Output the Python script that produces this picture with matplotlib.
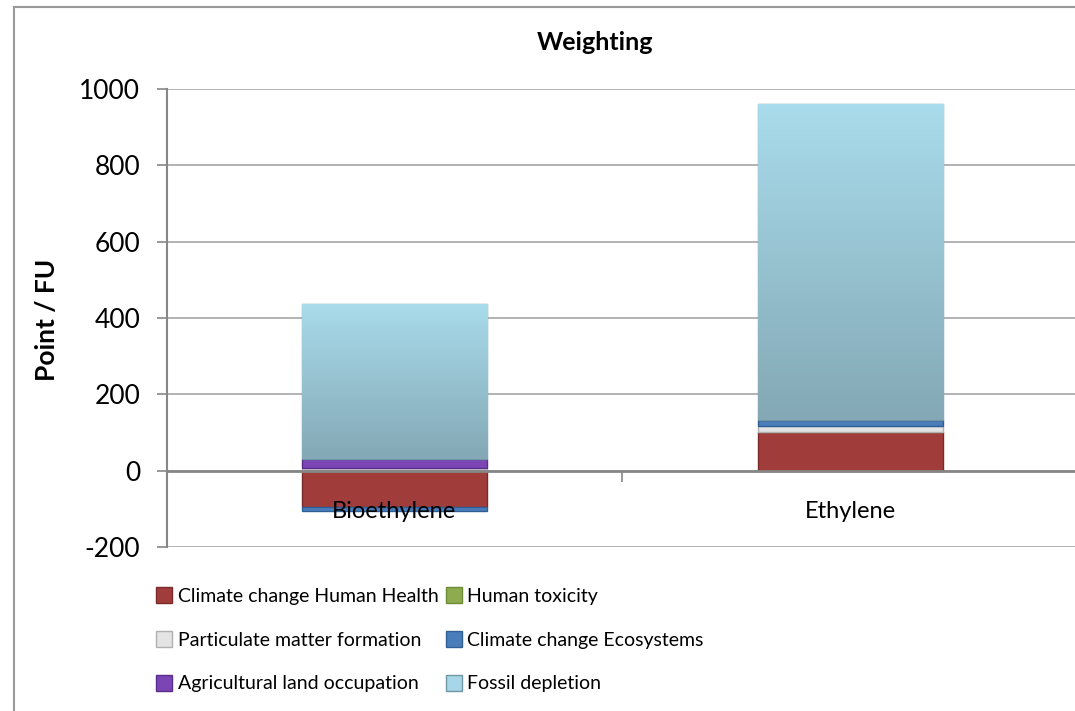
import numpy as np
import matplotlib.pyplot as plt
from matplotlib.lines import Line2D
from matplotlib.colors import LinearSegmentedColormap

plt.rcParams["font.family"] = ["Lato", "DejaVu Sans"]
plt.rcParams["font.size"] = 15
plt.rcParams["axes.unicode_minus"] = False

# Data (Point / FU)
products = ["Bioethylene", "Ethylene"]
categories = ["Climate change Human Health", "Human toxicity",
              "Particulate matter formation", "Climate change Ecosystems",
              "Agricultural land occupation", "Fossil depletion"]
cc_human_health = [-94, 100]
human_toxicity = [1, 1]
particulate = [6, 15]
cc_ecosystems = [-13, 16]
agri_land = [23, 2]
fossil = [407, 826]
series = [cc_human_health, human_toxicity, particulate, cc_ecosystems, agri_land, fossil]

colors = ["#a03d3b", "#8eab4f", "#e4e4e4", "#4a7ebb", "#7c45b5", "#a6d6e7"]
edges = ["#7a2a28", "#6d8a35", "#b0b0b0", "#2f5f96", "#5a2d8a", "#6f96a4"]

fig = plt.figure(figsize=(10.75, 7.11), dpi=100)
ax = fig.add_axes([0.155, 0.2307, 0.8478, 0.6441])

x = np.arange(len(products))
pos_bottom = np.zeros(len(products))
neg_bottom = np.zeros(len(products))
bar_w = 0.406
fossil_bars = None
for vals, c, ec in zip(series, colors, edges):
    vals = np.array(vals, dtype=float)
    bottom = np.where(vals >= 0, pos_bottom, neg_bottom)
    bars = ax.bar(x, vals, bar_w, bottom=bottom, color=c, edgecolor=ec,
                  linewidth=1, zorder=3)
    pos_bottom += np.where(vals >= 0, vals, 0)
    neg_bottom += np.where(vals < 0, vals, 0)
    fossil_bars = bars

# gradient on fossil depletion bars
grad = np.linspace(0, 1, 256).reshape(-1, 1)
cmap = LinearSegmentedColormap.from_list("fd", ["#84a8b5", "#a9dcec"])
for b in fossil_bars:
    x0, y0 = b.get_x(), b.get_y()
    im = ax.imshow(grad, cmap=cmap, origin="lower", aspect="auto",
                   extent=[x0, x0 + b.get_width(), y0, y0 + b.get_height()],
                   zorder=3.5)
    im.set_clip_path(b)

ax.set_xlim(-0.5, 1.5)
ax.set_ylim(-200, 1000)
ax.set_yticks(np.arange(-200, 1001, 200))
ax.yaxis.grid(True, color="#a6a6a6", linewidth=1.2, zorder=0)
ax.tick_params(axis="y", length=7, color="#868686", width=1.2, labelsize=19, pad=12)

for s in ["top", "right"]:
    ax.spines[s].set_visible(False)
ax.spines["left"].set_color("#868686")
ax.spines["left"].set_linewidth(1.5)
ax.spines["bottom"].set_position(("data", 0))
ax.spines["bottom"].set_color("#868686")
ax.spines["bottom"].set_linewidth(2)
ax.spines["bottom"].set_zorder(4)

ax.set_xticks([0.5])
ax.set_xticklabels([])
ax.tick_params(axis="x", which="major", direction="out", length=8,
               color="#868686", width=1.2)
ax.set_xticks(x, minor=True)
ax.set_xticklabels(products, minor=True)
ax.tick_params(axis="x", which="minor", length=0, labelsize=17, pad=22)
ax.xaxis.set_zorder(5)

fig.text(595 / 1075, 1 - 43 / 711, "Weighting", ha="center", va="center",
         fontsize=18, fontweight="bold")
fig.text(47 / 1075, 1 - 320 / 711, "Point / FU", ha="center", va="center",
         rotation=90, fontsize=19, fontweight="bold")

handles = [Line2D([], [], marker="s", linestyle="none", markersize=11,
                  markerfacecolor=c, markeredgecolor=ec)
           for c, ec in zip(colors, edges)]
order = [0, 2, 4, 1, 3, 5]
fig.legend([handles[i] for i in order], [categories[i] for i in order],
           ncol=2, loc="upper left", bbox_to_anchor=(0.138, 1 - 580 / 711),
           frameon=False, fontsize=14, handlelength=0.8, handletextpad=0.3,
           columnspacing=0.4, labelspacing=1.38, borderaxespad=0)

# chart area border (cropped at right and bottom)
fig.add_artist(Line2D([13.5 / 1075, 1.01], [1 - 6.5 / 711] * 2,
                      color="#9a9a9a", linewidth=1.5))
fig.add_artist(Line2D([13.5 / 1075] * 2, [-0.01, 1 - 6.5 / 711],
                      color="#9a9a9a", linewidth=1.5))

fig.savefig("out.png", dpi=100)
